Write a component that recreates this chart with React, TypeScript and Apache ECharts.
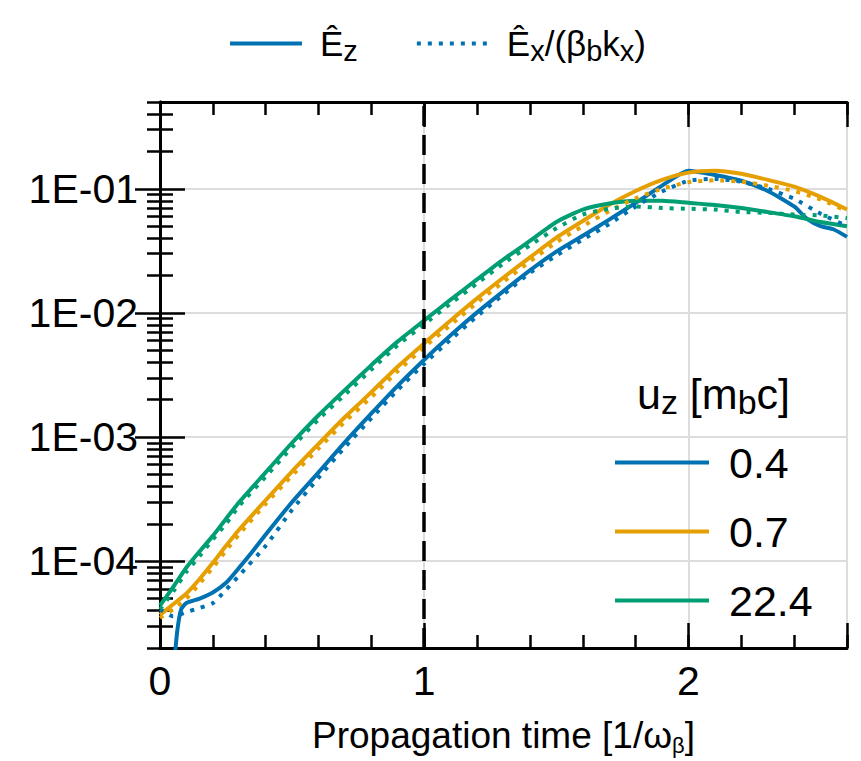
import React, { useEffect, useRef } from 'react';
import * as echarts from 'echarts';

// Propagation time grid [1/omega_beta]
const tGrid = [0, 0.05, 0.1, 0.15, 0.2, 0.25, 0.3, 0.4, 0.5, 0.6, 0.7, 0.8, 0.9, 1.0, 1.1, 1.2, 1.3, 1.4, 1.5, 1.6, 1.7, 1.8, 1.9, 2.0, 2.1, 2.2, 2.3, 2.4, 2.5, 2.6];

// u_z = 0.4 (blue)
const blueSolidT = [0.05, 0.065, 0.08, 0.1, 0.15, 0.2, 0.25, 0.3, 0.35, 0.4, 0.5, 0.6, 0.7, 0.8, 0.9, 1.0, 1.1, 1.2, 1.3, 1.4, 1.5, 1.6, 1.7, 1.8, 1.9, 2.0, 2.1, 2.2, 2.3, 2.4, 2.45, 2.5, 2.55, 2.6];
const blueSolid = [1.2e-5, 2.7e-5, 4.1e-5, 4.6e-5, 5.0e-5, 5.6e-5, 6.7e-5, 8.9e-5, 1.2e-4, 1.64e-4, 3.0e-4, 5.2e-4, 9.1e-4, 1.55e-3, 2.6e-3, 4.2e-3, 6.6e-3, 1.01e-2, 1.5e-2, 2.2e-2, 3.12e-2, 4.19e-2, 5.64e-2, 7.7e-2, 1.06e-1, 1.40e-1, 1.29e-1, 1.16e-1, 9.6e-2, 7.2e-2, 5.7e-2, 5.0e-2, 4.7e-2, 4.1e-2];
const blueDotted = [4.1e-5, 3.6e-5, 3.9e-5, 4.2e-5, 4.6e-5, 5.9e-5, 7.7e-5, 1.33e-4, 2.6e-4, 4.7e-4, 8.3e-4, 1.42e-3, 2.4e-3, 3.9e-3, 6.1e-3, 9.4e-3, 1.41e-2, 2.1e-2, 2.9e-2, 3.9e-2, 5.2e-2, 7.2e-2, 9.5e-2, 1.16e-1, 1.20e-1, 1.14e-1, 1.0e-1, 8.3e-2, 6.3e-2, 5.0e-2];

// u_z = 0.7 (orange)
const orangeSolid = [3.7e-5, 4.5e-5, 5.5e-5, 7.2e-5, 9.7e-5, 1.33e-4, 1.8e-4, 3.1e-4, 5.3e-4, 8.8e-4, 1.45e-3, 2.3e-3, 3.7e-3, 5.7e-3, 8.7e-3, 1.31e-2, 1.93e-2, 2.8e-2, 4.04e-2, 5.5e-2, 7.44e-2, 9.6e-2, 1.18e-1, 1.35e-1, 1.40e-1, 1.32e-1, 1.18e-1, 1.04e-1, 8.6e-2, 6.8e-2];
const orangeDotted = [3.5e-5, 4.1e-5, 5.0e-5, 6.6e-5, 8.9e-5, 1.22e-4, 1.65e-4, 2.9e-4, 4.9e-4, 8.1e-4, 1.33e-3, 2.1e-3, 3.4e-3, 5.3e-3, 8.0e-3, 1.21e-2, 1.78e-2, 2.6e-2, 3.7e-2, 5.0e-2, 6.6e-2, 8.4e-2, 1.0e-1, 1.13e-1, 1.17e-1, 1.14e-1, 1.06e-1, 9.6e-2, 8.2e-2, 6.6e-2];

// u_z = 22.4 (green)
const greenSolid = [4.4e-5, 6.2e-5, 8.9e-5, 1.2e-4, 1.6e-4, 2.2e-4, 3.0e-4, 5.2e-4, 9.0e-4, 1.5e-3, 2.4e-3, 3.8e-3, 5.9e-3, 8.7e-3, 1.28e-2, 1.86e-2, 2.7e-2, 3.8e-2, 5.4e-2, 6.8e-2, 7.6e-2, 8.0e-2, 8.0e-2, 7.7e-2, 7.4e-2, 7.0e-2, 6.5e-2, 6.0e-2, 5.4e-2, 5.0e-2];
const greenDotted = [4.1e-5, 5.7e-5, 8.2e-5, 1.1e-4, 1.5e-4, 2.0e-4, 2.8e-4, 4.8e-4, 8.3e-4, 1.39e-3, 2.2e-3, 3.5e-3, 5.5e-3, 8.1e-3, 1.19e-2, 1.73e-2, 2.5e-2, 3.5e-2, 4.8e-2, 6.2e-2, 6.9e-2, 7.2e-2, 7.0e-2, 6.9e-2, 6.8e-2, 6.5e-2, 6.4e-2, 6.2e-2, 6.1e-2, 5.8e-2];

const uzLabels = ['0.4', '0.7', '22.4'];
const palette = ['#0072B2', '#E69F00', '#009E73'];

const yMajorTicks = [1e-4, 1e-3, 1e-2, 1e-1];
const yMinorTicks = [
  2e-5, 3e-5, 4e-5, 5e-5, 6e-5, 7e-5, 8e-5, 9e-5,
  2e-4, 3e-4, 4e-4, 5e-4, 6e-4, 7e-4, 8e-4, 9e-4,
  2e-3, 3e-3, 4e-3, 5e-3, 6e-3, 7e-3, 8e-3, 9e-3,
  2e-2, 3e-2, 4e-2, 5e-2, 6e-2, 7e-2, 8e-2, 9e-2,
  0.2, 0.3, 0.4, 0.5,
];
const Y_MIN = 2e-5;
const Y_MAX = 0.5;
const X_MIN = 0;
const X_MAX = 2.6;
const markerTime = 1;

const FONT = 'Liberation Sans, Arial, Helvetica, sans-serif';
const lg = (v: number) => Math.log10(v);

export default function App() {
  const ref = useRef<HTMLDivElement>(null);

  useEffect(() => {
    document.body.style.margin = '0';
    if (!ref.current) return;
    const chart = echarts.init(ref.current, undefined, { renderer: 'svg' });

    const toPairs = (t: number[], v: number[]) => t.map((x, i) => [x, lg(v[i])]);
    const majorLog = yMajorTicks.map(lg);
    const minorLog = yMinorTicks.map(lg);

    const blackLine = { color: '#000', width: 3 };
    const tickLine = { color: '#000', width: 2.5 };

    const yBase: any = {
      type: 'value',
      min: lg(Y_MIN),
      max: lg(Y_MAX),
      axisLabel: { show: false },
      splitLine: { show: false },
      axisLine: { show: false },
    };
    const xBase: any = {
      type: 'value',
      min: X_MIN,
      max: X_MAX,
      axisLabel: { show: false },
      splitLine: { show: false },
      axisLine: { show: false },
    };

    const solidSets = [
      { t: blueSolidT, v: blueSolid },
      { t: tGrid, v: orangeSolid },
      { t: tGrid, v: greenSolid },
    ];
    const dottedSets = [blueDotted, orangeDotted, greenDotted];

    const series: any[] = [];
    solidSets.forEach((s, i) => {
      series.push({
        name: uzLabels[i],
        type: 'line',
        data: toPairs(s.t, s.v),
        symbol: 'none',
        smooth: 0.2,
        color: palette[i],
        lineStyle: { color: palette[i], width: 4 },
        z: 3,
      });
    });
    dottedSets.forEach((v, i) => {
      series.push({
        name: uzLabels[i] + ' dotted',
        type: 'line',
        data: toPairs(tGrid, v),
        symbol: 'none',
        smooth: 0.2,
        color: palette[i],
        lineStyle: { color: palette[i], width: 4, type: [4, 7], cap: 'butt' },
        z: 3,
      });
    });
    series.push({
      name: 'Ez',
      type: 'line',
      data: [],
      symbol: 'none',
      color: palette[0],
      lineStyle: { color: palette[0], width: 4 },
    });
    series.push({
      name: 'Ex',
      type: 'line',
      data: [],
      symbol: 'none',
      color: palette[0],
      lineStyle: { color: palette[0], width: 4, type: [4, 7], cap: 'butt' },
    });
    series.push({
      name: 'marker',
      type: 'line',
      data: [],
      z: 5,
      markLine: {
        silent: true,
        symbol: ['none', 'none'],
        label: { show: false },
        lineStyle: { color: '#000', width: 3.5, type: [20, 9] },
        data: [{ xAxis: markerTime }],
      },
    });

    const option: any = {
      animation: false,
      textStyle: { fontFamily: FONT },
      grid: { left: 160, top: 102, right: 14, bottom: 110, containLabel: false },
      xAxis: [
        {
          ...xBase,
          position: 'bottom',
          interval: 1,
          axisLine: { show: true, lineStyle: blackLine },
          axisTick: { show: true, inside: true, length: 25, lineStyle: tickLine },
          axisLabel: {
            show: true,
            fontSize: 41,
            color: '#000',
            fontFamily: FONT,
            margin: 12,
            formatter: (v: number) => (Number.isInteger(v) ? String(v) : ''),
          },
          splitLine: { show: true, lineStyle: { color: '#dddddd', width: 2 } },
          name: 'Propagation time [1/ω{s|β}]',
          nameLocation: 'middle',
          nameGap: 66,
          nameTextStyle: {
            fontSize: 37,
            color: '#000',
            fontFamily: FONT,
            lineHeight: 42,
            rich: { s: { fontSize: 22, lineHeight: 26, verticalAlign: 'bottom', color: '#000', fontFamily: FONT } },
          },
        },
        {
          ...xBase,
          position: 'bottom',
          interval: 0.2,
          axisTick: { show: true, inside: true, length: 13, lineStyle: tickLine },
        },
        {
          ...xBase,
          position: 'top',
          interval: 1,
          axisLine: { show: true, lineStyle: blackLine },
          axisTick: { show: true, inside: true, length: 25, lineStyle: tickLine },
        },
        {
          ...xBase,
          position: 'top',
          interval: 0.2,
          axisTick: { show: true, inside: true, length: 13, lineStyle: tickLine },
        },
      ],
      yAxis: [
        {
          ...yBase,
          position: 'left',
          axisLine: { show: true, lineStyle: blackLine },
          axisTick: { show: true, inside: true, length: 25, lineStyle: tickLine, customValues: majorLog },
          axisLabel: {
            show: true,
            customValues: majorLog,
            fontSize: 41,
            color: '#000',
            fontFamily: FONT,
            margin: 22,
            formatter: (v: number) => '1E-' + String(Math.round(-v)).padStart(2, '0'),
          },
          splitLine: { show: true, lineStyle: { color: '#dddddd', width: 2 } },
        },
        {
          ...yBase,
          position: 'left',
          axisTick: { show: true, inside: true, length: 13, lineStyle: tickLine, customValues: minorLog },
        },
        {
          ...yBase,
          position: 'right',
          axisLine: { show: true, lineStyle: blackLine },
          axisTick: { show: true, inside: true, length: 25, lineStyle: tickLine, customValues: majorLog },
        },
        {
          ...yBase,
          position: 'right',
          axisTick: { show: true, inside: true, length: 13, lineStyle: tickLine, customValues: minorLog },
        },
      ],
      legend: [
        {
          data: ['Ez', 'Ex'],
          left: 223,
          top: 21,
          orient: 'horizontal',
          itemWidth: 72,
          itemHeight: 14,
          itemGap: 57,
          selectedMode: false,
          lineStyle: { width: 4 },
          itemStyle: { opacity: 0 },
          formatter: (n: string) =>
            n === 'Ez' ? '{m|Ê}{s|z}' : '{m|Ê}{s|x}{m|/(β}{s|b}{m|k}{s|x}{m|)}',
          textStyle: {
            padding: [0, 0, 0, 13],
            rich: {
              m: { fontSize: 35, lineHeight: 44, color: '#000', fontFamily: FONT },
              s: { fontSize: 29, lineHeight: 32, verticalAlign: 'bottom', color: '#000', fontFamily: FONT },
            },
          },
        },
        {
          data: uzLabels,
          left: 608,
          top: 436,
          orient: 'vertical',
          itemWidth: 94,
          itemHeight: 14,
          itemGap: 26,
          selectedMode: false,
          lineStyle: { width: 4 },
          itemStyle: { opacity: 0 },
          textStyle: {
            fontSize: 43,
            lineHeight: 43,
            color: '#000',
            fontFamily: FONT,
            padding: [0, 0, 0, 15],
          },
        },
      ],
      graphic: [
        {
          type: 'text',
          left: 637,
          top: 372,
          z: 10,
          style: {
            text: '{m|u}{s|z}{m| [m}{s|b}{m|c]}',
            rich: {
              m: { fontSize: 43, lineHeight: 50, fill: '#000', fontFamily: FONT },
              s: { fontSize: 34, lineHeight: 36, verticalAlign: 'bottom', fill: '#000', fontFamily: FONT },
            },
          },
        },
      ],
      series,
    };

    chart.setOption(option);
    return () => {
      chart.dispose();
    };
  }, []);

  return <div ref={ref} style={{ width: 861, height: 761 }} />;
}
